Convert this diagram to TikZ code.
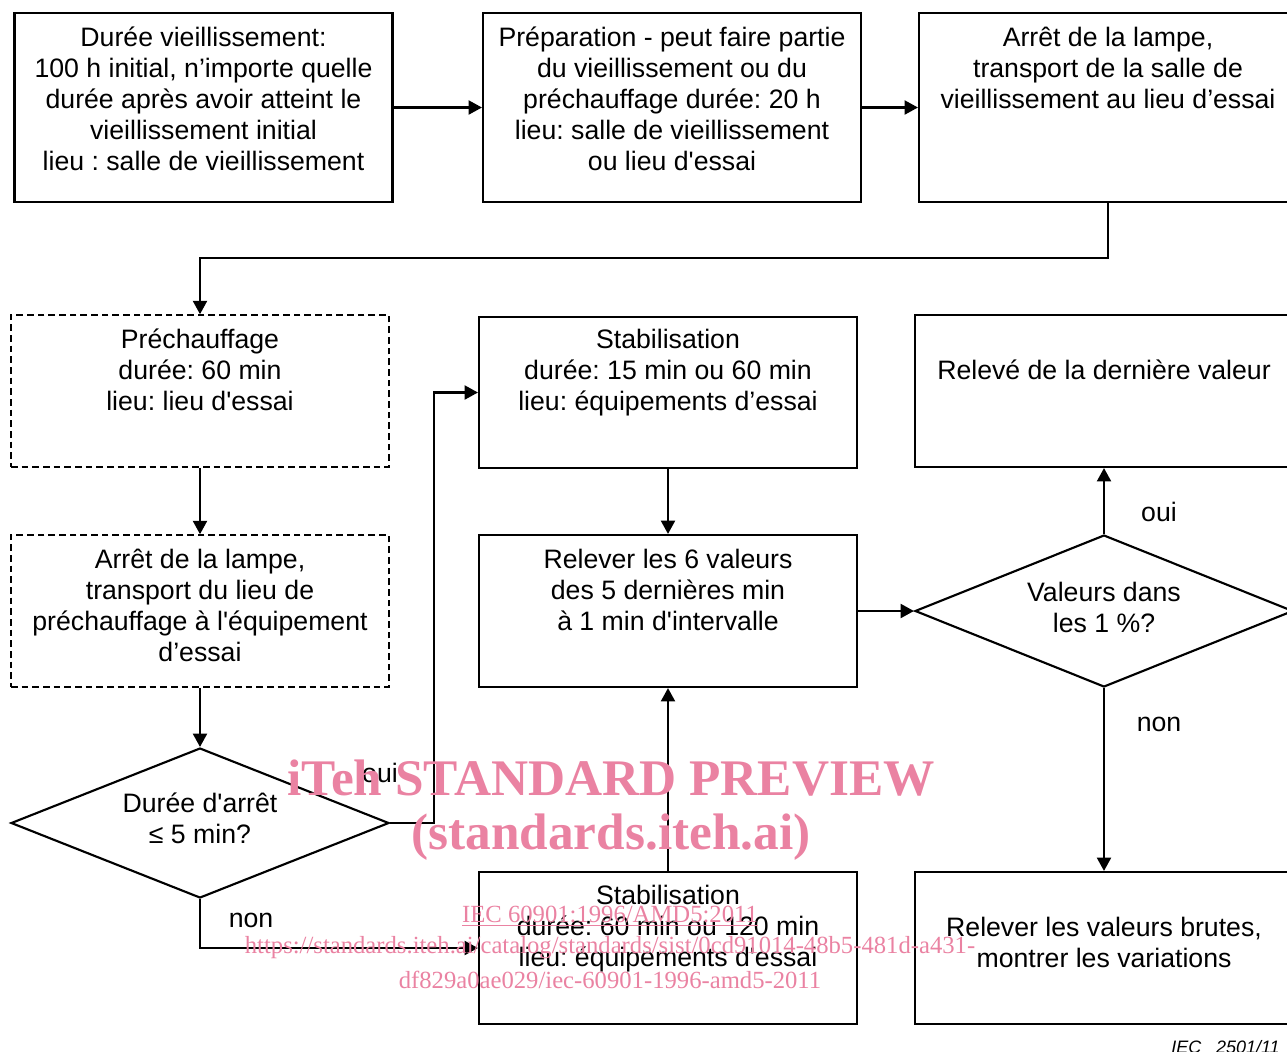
\documentclass[tikz,border=0pt]{standalone}
\usepackage{fontspec}
\setmainfont{Liberation Sans}[Ligatures=TeXOff]
\newfontfamily\wmfont{Liberation Serif}
\usetikzlibrary{shapes.geometric,arrows.meta}
\definecolor{wm}{RGB}{234,130,162}
\frenchspacing
\tikzset{
  main/.style={font=\fontsize{20}{23.25}\selectfont},
  box/.style={draw, line width=1.6pt, inner sep=0pt, minimum width=283.5pt, minimum height=#1},
  dbox/.style={box=#1, line width=1.2pt, dash pattern=on 5pt off 3pt},
  dia/.style={draw, diamond, aspect=2.5, line width=1.6pt, inner sep=0pt, minimum width=283.5pt, minimum height=#1},
  txt/.style={align=center, inner sep=0pt, main},
  arr/.style={line width=1.6pt, -{Triangle[length=10pt,width=10.5pt]}},
  lbl/.style={inner sep=0pt, main},
  wmbig/.style={text=wm, inner sep=0pt, font=\wmfont\bfseries\fontsize{38.5}{40}\selectfont},
  wmsmall/.style={text=wm, inner sep=0pt, font=\wmfont\fontsize{18.5}{20}\selectfont},
}
\begin{document}
\begin{tikzpicture}[x=0.75pt,y=-0.75pt]
\useasboundingbox (0,0) rectangle (1287,1051);
\begin{scope}
\clip (0,0) rectangle (1287,1051);
% boxes
\node[box=141.75pt] (A) at (203.5,107.5) {};
\node[box=141.75pt] (B) at (672,107.5) {};
\node[box=141.75pt] (C) at (1108,107.5) {};
\node[dbox=114pt] (D) at (200,391) {};
\node[box=113.25pt] (E) at (668,392.5) {};
\node[box=114pt] (F) at (1104,391) {};
\node[dbox=114pt] (G) at (200,611) {};
\node[dia=112.5pt] (H) at (200,823) {};
\node[box=114pt] (I) at (668,611) {};
\node[dia=114pt] (J) at (1104,611) {};
\node[box=114pt] (K) at (668,948) {};
\node[box=114pt] (L) at (1104,948) {};
% texts
\node[txt] (tA) at (203.5,98.5) {Durée vieillissement:\\100 h initial, n’importe quelle\\durée après avoir atteint le\\vieillissement initial\\lieu : salle de vieillissement};
\node[txt] (tB) at (672,98.5) {Préparation - peut faire partie\\du vieillissement ou du\\préchauffage durée: 20 h\\lieu: salle de vieillissement\\ou lieu d'essai};
\node[txt] (tC) at (1108,68) {Arrêt de la lampe,\\transport de la salle de\\vieillissement au lieu d’essai};
\node[txt] (tD) at (200,369.5) {Préchauffage\\durée: 60 min\\lieu: lieu d'essai};
\node[txt] (tE) at (668,373) {Stabilisation\\durée: 15 min ou 60 min\\lieu: équipements d’essai};
\node[txt] (tF) at (1104,370) {Relevé de la dernière valeur};
\node[txt] (tG) at (200,605.5) {Arrêt de la lampe,\\transport du lieu de\\préchauffage à l'équipement\\d’essai};
\node[txt] (tH) at (200,818.5) {Durée d'arrêt\\≤ 5 min?};
\node[txt] (tI) at (668,590) {Relever les 6 valeurs\\des 5 dernières min\\à 1 min d'intervalle};
\node[txt] (tJ) at (1104,607.5) {Valeurs dans\\les 1 \%?};
\node[txt] (tK) at (668,928.5) {Stabilisation\\durée: 60 min ou 120 min\\lieu: équipements d'essai};
\node[txt] (tL) at (1104,942.5) {Relever les valeurs brutes,\\montrer les variations};
% connectors
\coordinate (k1) at (200,258);
\coordinate (k2) at (434,823);
\draw[arr] (A.east) -- (B.west);
\draw[arr] (B.east) -- (C.west);
\draw[arr] (C.south) |- (k1) -- (D.north);
\draw[arr] (D.south) -- (G.north);
\draw[arr] (G.south) -- (H.north);
\draw[arr] (H.east) -- (k2) |- (E.west);
\draw[arr] (H.south) |- (K.west);
\draw[arr] (E.south) -- (I.north);
\draw[arr] (K.north) -- (I.south);
\draw[arr] (I.east) -- (J.west);
\draw[arr] (J.north) -- (F.south);
\draw[arr] (J.south) -- (L.north);
% labels
\node[lbl] (o1) at (380,773) {oui};
\node[lbl] (n1) at (251,920) {non};
\node[lbl] (o2) at (1159,512) {oui};
\node[lbl] (n2) at (1159,724) {non};
\node[inner sep=0pt, anchor=base east, font=\fontsize{13.5}{15}\itshape\selectfont] (iec) at (1280,1053) {IEC\hspace{11pt}2501/11};
% watermark
\node[wmbig] (w1) at (611,778) {iTeh STANDARD PREVIEW};
\node[wmbig] (w2) at (611,837) {(standards.iteh.ai)};
\node[wmsmall] (w3) at (610,916) {\underline{IEC 60901:1996/AMD5:2011}};
\node[wmsmall] (w4) at (610,948) {https://standards.iteh.ai/catalog/standards/sist/0cd91014-48b5-481d-a431-};
\node[wmsmall] (w5) at (610,980) {df829a0ae029/iec-60901-1996-amd5-2011};
\end{scope}
\end{tikzpicture}
\end{document}
